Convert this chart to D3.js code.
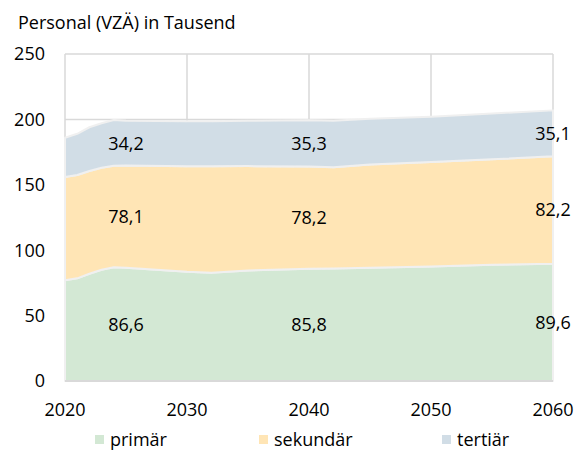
<!DOCTYPE html>
<html>
<head>
<meta charset="utf-8">
<script src="https://cdn.jsdelivr.net/npm/d3@7"></script>
<style>
  body { margin: 0; background: #fff; }
  text { font-family: "Open Sans", sans-serif; fill: #000; }
</style>
</head>
<body>
<svg id="chart" width="575" height="456"></svg>
<script>
// values (thousand FTE)
const years = [2020, 2021, 2022, 2023, 2024, 2025, 2030, 2032, 2035, 2040, 2042, 2045, 2050, 2055, 2060];
const primaer = [77.0, 78.5, 82.0, 85.0, 87.0, 86.6, 83.5, 82.8, 84.5, 85.8, 86.0, 86.5, 87.5, 88.8, 89.6];
const sekundaer = [79.0, 79.0, 78.5, 78.0, 77.5, 78.1, 80.7, 81.4, 79.8, 78.2, 77.5, 79.0, 80.0, 80.7, 82.2];
const tertiaer = [30.0, 31.5, 33.5, 34.0, 35.0, 34.2, 34.3, 34.3, 34.7, 35.3, 35.5, 35.0, 34.5, 35.0, 35.1];

const seriesNames = ['primär', 'sekundär', 'tertiär'];
const colors = ['#d3e8d4', '#ffe5b5', '#d1dde6'];
const yTicks = [0, 50, 100, 150, 200, 250];
const xTicks = [2020, 2030, 2040, 2050, 2060];
const labelYears = [2025, 2040, 2060];

const svg = d3.select('#chart');
const margin = {left: 65, right: 22, top: 54, bottom: 75};
const width = 575 - margin.left - margin.right;
const height = 456 - margin.top - margin.bottom;
const fs = 18;

const g = svg.append('g').attr('transform', `translate(${margin.left},${margin.top})`);

const x = d3.scaleLinear().domain([2020, 2060]).range([0, width]);
const y = d3.scaleLinear().domain([0, 250]).range([height, 0]);

const rows = years.map((yr, i) => ({year: yr, 'primär': primaer[i], 'sekundär': sekundaer[i], 'tertiär': tertiaer[i]}));
const stack = d3.stack().keys(seriesNames)(rows);

// gridlines
g.append('g').selectAll('line.h')
  .data(yTicks.slice(1))
  .enter().append('line')
  .attr('x1', 0).attr('x2', width)
  .attr('y1', d => y(d)).attr('y2', d => y(d))
  .attr('stroke', '#d9d9d9').attr('stroke-width', 1.5);
g.append('g').selectAll('line.v')
  .data(xTicks)
  .enter().append('line')
  .attr('x1', d => x(d)).attr('x2', d => x(d))
  .attr('y1', 0).attr('y2', height)
  .attr('stroke', '#d9d9d9').attr('stroke-width', 1.5);

// areas
const area = d3.area()
  .x(d => x(d.data.year))
  .y0(d => y(d[0]))
  .y1(d => y(d[1]));

g.selectAll('path.area')
  .data(stack)
  .enter().append('path')
  .attr('d', area)
  .attr('fill', (d, i) => colors[i])
  .attr('stroke', '#f0f0f0')
  .attr('stroke-width', 2)
  .attr('stroke-linejoin', 'round');

// axis line at bottom
g.append('line')
  .attr('x1', 0).attr('x2', width)
  .attr('y1', height).attr('y2', height)
  .attr('stroke', '#d9d9d9').attr('stroke-width', 2);

// y tick labels
g.selectAll('text.ytick')
  .data(yTicks)
  .enter().append('text')
  .attr('x', -20)
  .attr('y', d => y(d))
  .attr('dy', '0.35em')
  .attr('text-anchor', 'end')
  .attr('font-size', fs)
  .text(d => d);

// x tick labels
g.selectAll('text.xtick')
  .data(xTicks)
  .enter().append('text')
  .attr('x', d => x(d))
  .attr('y', height + 35)
  .attr('text-anchor', 'middle')
  .attr('font-size', fs)
  .text(d => d);

// data labels in the middle of each band
const fmt = v => v.toFixed(1).replace('.', ',');
stack.forEach(s => {
  labelYears.forEach(yr => {
    const p = s.find(d => d.data.year === yr);
    g.append('text')
      .attr('x', x(yr))
      .attr('y', y((p[0] + p[1]) / 2))
      .attr('dy', '0.35em')
      .attr('text-anchor', 'middle')
      .attr('font-size', fs)
      .text(fmt(p[1] - p[0]));
  });
});

// title
svg.append('text')
  .attr('x', 18).attr('y', 29)
  .attr('font-size', fs)
  .text('Personal (VZÄ) in Tausend');

// legend
const legendX = [95, 259, 442];
const legend = svg.append('g').selectAll('g')
  .data(seriesNames)
  .enter().append('g')
  .attr('transform', (d, i) => `translate(${legendX[i]},440)`);
legend.append('rect')
  .attr('x', 0).attr('y', -5)
  .attr('width', 9).attr('height', 9)
  .attr('fill', (d, i) => colors[i]);
legend.append('text')
  .attr('x', 15).attr('y', 0)
  .attr('dy', '0.35em')
  .attr('font-size', fs)
  .text(d => d);
</script>
</body>
</html>
